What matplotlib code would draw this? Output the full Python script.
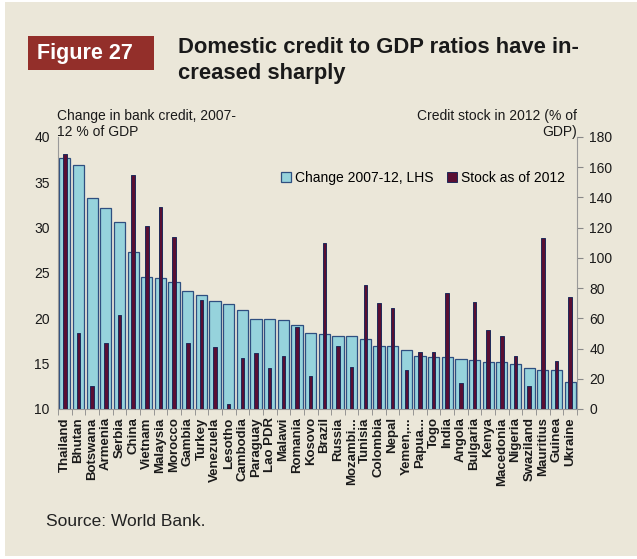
import matplotlib
matplotlib.use("Agg")
import matplotlib.pyplot as plt
from matplotlib.patches import Rectangle, Patch
import numpy as np

plt.rcParams['font.family'] = ['Liberation Sans', 'DejaVu Sans']

countries = ["Thailand", "Bhutan", "Botswana", "Armenia", "Serbia", "China", "Vietnam",
             "Malaysia", "Morocco", "Gambia", "Turkey", "Venezuela", "Lesotho", "Cambodia",
             "Paraguay", "Lao PDR", "Malawi", "Romania", "Kosovo", "Brazil", "Russia",
             "Mozambi...", "Tunisia", "Colombia", "Nepal", "Yemen,...", "Papua...", "Togo",
             "India", "Angola", "Bulgaria", "Kenya", "Macedonia", "Nigeria", "Swaziland",
             "Mauritius", "Guinea", "Ukraine"]
change_0712 = [37.7, 36.9, 33.3, 32.2, 30.6, 27.3, 24.6, 24.4, 24.0, 23.0, 22.6, 21.9,
               21.6, 20.9, 19.9, 19.9, 19.8, 19.3, 18.4, 18.3, 18.05, 18.0, 17.7, 16.9,
               16.9, 16.5, 15.8, 15.7, 15.7, 15.5, 15.35, 15.2, 15.2, 15.0, 14.55, 14.35,
               14.3, 13.0]
stock_2012 = [169, 50, 15, 44, 62, 155, 121, 134, 114, 44, 72, 41, 3, 34, 37, 27, 35,
              54, 22, 110, 42, 28, 82, 70, 67, 26, 38, 38, 77, 17, 71, 52, 48, 35, 15,
              113, 32, 74]
left_ticks = [10, 15, 20, 25, 30, 35, 40]
right_ticks = [0, 20, 40, 60, 80, 100, 120, 140, 160, 180]

W, H = 637, 559
fig = plt.figure(figsize=(W / 100, H / 100), dpi=100)
fig.patch.set_facecolor("white")
bg = "#ebe7d9"
fig.patches.append(Rectangle((5 / W, 3 / H), 1 - 5 / W, 1 - 5 / H, transform=fig.transFigure,
                             facecolor=bg, edgecolor="none", zorder=-10))

# Figure label box
fig.patches.append(Rectangle((28 / W, 1 - 70 / H), 126 / W, 34 / H, transform=fig.transFigure,
                             facecolor="#932f2a", edgecolor="none", zorder=1))
fig.text(37 / W, 1 - 53 / H, "Figure 27", color="white", fontsize=15.5, fontweight="bold",
         va="center", ha="left")
fig.text(178 / W, 1 - 37 / H, "Domestic credit to GDP ratios have in-\ncreased sharply",
         color="#1a1a1a", fontsize=15.8, fontweight="bold", va="top", ha="left",
         linespacing=1.3)

ax = fig.add_axes([58 / W, 1 - 409 / H, (577 - 58) / W, (409 - 137) / H])
ax.set_facecolor("none")
x = np.arange(len(countries))
ax.bar(x, change_0712, width=0.82, color="#96d3dc", edgecolor="#2f4f80", linewidth=0.9,
       bottom=0, zorder=2)
ax.set_ylim(10, 40)
ax.set_xlim(-0.5, len(countries) - 0.5)
ax.set_yticks(left_ticks)
ax.set_xticks(x)
ax.set_xticklabels(countries, rotation=90, fontsize=9.5, fontweight="bold", color="#1a1a1a")
ax.set_xticks(np.arange(-0.5, len(countries), 1), minor=True)
ax.tick_params(axis="x", which="major", length=0, pad=6)
ax.tick_params(axis="x", which="minor", length=4, color="#888888", direction="out")
ax.tick_params(axis="y", labelsize=10, length=0, colors="#1a1a1a", pad=6)
for s in ["top", "right"]:
    ax.spines[s].set_visible(False)
ax.spines["left"].set_color("#999999")
ax.spines["bottom"].set_color("#999999")

ax2 = ax.twinx()
ax2.bar(x, stock_2012, width=0.26, color="#5a0f33", edgecolor="#1e2a5a", linewidth=0.7,
        zorder=3)
ax2.set_ylim(0, 180)
ax2.set_yticks(right_ticks)
ax2.tick_params(axis="y", labelsize=10, length=4, direction="out", color="#888888",
                colors="#1a1a1a", pad=5)
ax2.tick_params(axis="y", color="#888888")
for s in ["top", "left", "bottom"]:
    ax2.spines[s].set_visible(False)
ax2.spines["right"].set_color("#999999")

# Axis titles
fig.text(57 / W, 1 - 109 / H, "Change in bank credit, 2007-\n12 % of GDP", fontsize=10,
         color="#1a1a1a", va="top", ha="left", linespacing=1.15)
fig.text(577 / W, 1 - 109 / H, "Credit stock in 2012 (% of\nGDP)", fontsize=10,
         color="#1a1a1a", va="top", ha="right", multialignment="right", linespacing=1.15)

handles = [Patch(facecolor="#96d3dc", edgecolor="#2f4f80", linewidth=0.9),
           Patch(facecolor="#5a0f33", edgecolor="#1e2a5a", linewidth=0.7)]
ax2.legend(handles, ["Change 2007-12, LHS", "Stock as of 2012"], ncol=2, frameon=False,
           loc="center", bbox_to_anchor=((276 + 570) / 2 / W, 1 - 178 / H),
           bbox_transform=fig.transFigure, fontsize=10, handlelength=0.7, handleheight=0.7,
           handletextpad=0.3, columnspacing=1.0, borderaxespad=0, borderpad=0)

fig.text(46 / W, 1 - 522 / H, "Source: World Bank.", fontsize=12.5, color="#222222",
         va="center", ha="left")

fig.savefig("out.png", dpi=100, facecolor=fig.get_facecolor())
